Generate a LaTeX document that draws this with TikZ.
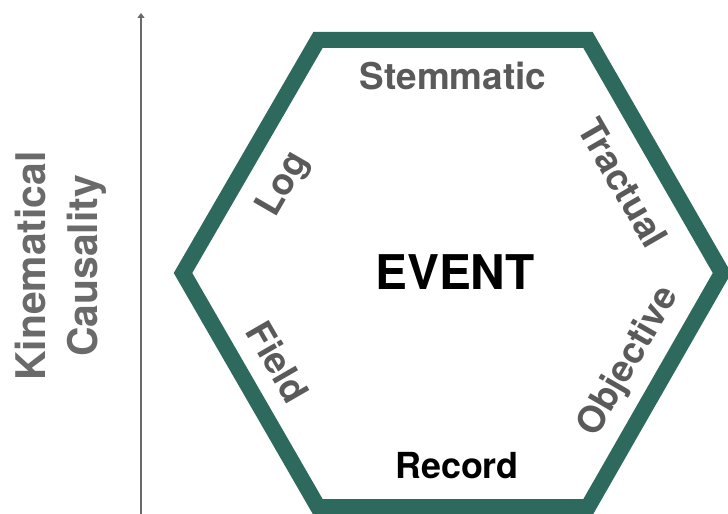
\documentclass[tikz,border=0pt]{standalone}
\usepackage{fontspec}
\setmainfont{TeX Gyre Heros}
\usetikzlibrary{arrows.meta}
\definecolor{hexgreen}{HTML}{2D6A5D}
\definecolor{labgray}{HTML}{5A5A5A}
\definecolor{axgray}{HTML}{6A6A6A}
\tikzset{
  edgelab/.style={font=\fontsize{37}{40}\selectfont\bfseries, text=labgray, inner sep=0pt},
  blacklab/.style={font=\fontsize{36}{40}\selectfont\bfseries, text=black, inner sep=0pt},
  hexline/.style={draw=hexgreen, line width=16bp, line join=miter},
}
\begin{document}
\begin{tikzpicture}[x=1bp,y=-1bp]
\useasboundingbox (0,0) rectangle (728,514);
\clip (0,0) rectangle (728,514);
\fill[white] (0,0) rectangle (728,514);
% hexagon
\coordinate (hl) at (183,273);
\coordinate (htl) at (318,40);
\coordinate (htr) at (588,40);
\coordinate (hr) at (722,273);
\coordinate (hbr) at (588,507);
\coordinate (hbl) at (318,507);
\draw[hexline] (hl) -- (htl) -- (htr) -- (hr) -- (hbr) -- (hbl) -- cycle;
% axis arrow
\coordinate (abot) at (141,514);
\coordinate (atop) at (141,13);
\draw[axgray, line width=1.5bp, -{Triangle[length=5bp,width=7bp]}] (abot) -- (atop);
% labels
\node[edgelab] (stem) at (453,76) {Stemmatic};
\node[blacklab] (rec) at (457,466) {Record};
\node[font=\fontsize{48}{50}\selectfont\bfseries, inner sep=0pt] (ev) at (455,272) {EVENT};
\node[edgelab, rotate=60] (log) at (284,185) {Log};
\node[edgelab, rotate=-60] (tract) at (623,183) {Tractual};
\node[edgelab, rotate=-60] (field) at (278,362) {Field};
\node[edgelab, rotate=60] (obj) at (629,362) {Objective};
\node[font=\fontsize{41}{52}\selectfont\bfseries, text=axgray, rotate=90, align=center, inner sep=0pt] (kc) at (61,266) {Kinematical\\Causality};
\end{tikzpicture}
\end{document}
